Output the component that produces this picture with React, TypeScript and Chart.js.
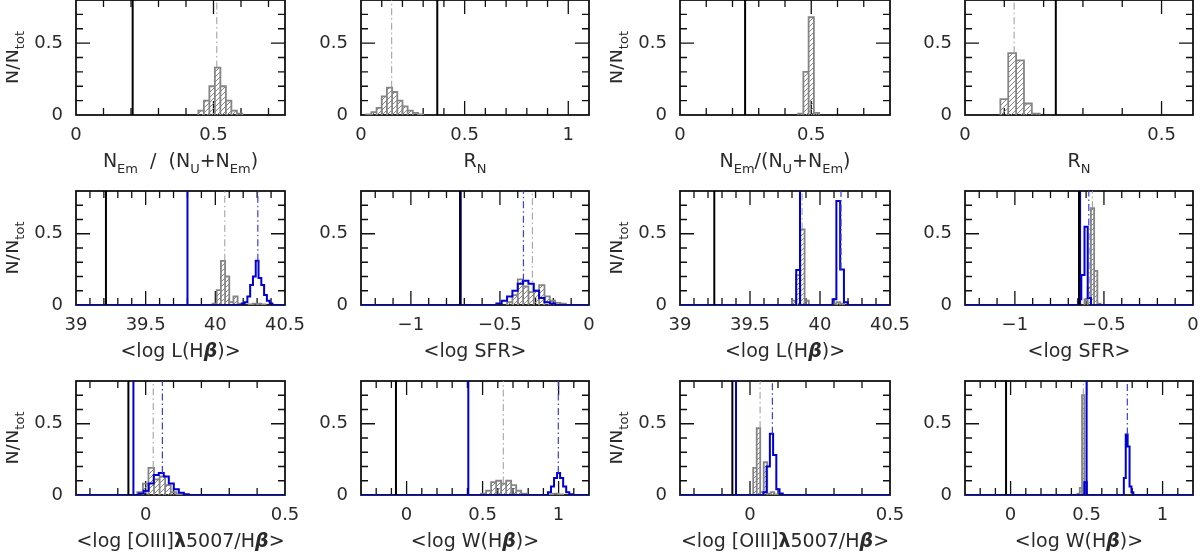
import { useEffect, useRef } from 'react';
import { Chart, registerables } from 'chart.js';

Chart.register(...registerables);

const FONT = '"DejaVu Sans", "Liberation Sans", sans-serif';

// panels run left to right, top to bottom
const xLimits = [
  [0, 0.76], [0, 1.1], [0, 0.8], [0, 0.58],
  [39, 40.5], [-1.28, 0], [39, 40.5], [-1.28, 0],
  [-0.25, 0.5], [-0.3, 1.2], [-0.25, 0.5], [-0.3, 1.2],
];
const xTickLabels = [
  [0, 0.5], [0, 0.5, 1], [0, 0.5], [0, 0.5],
  [39, 39.5, 40, 40.5], [-1, -0.5, 0], [39, 39.5, 40, 40.5], [-1, -0.5, 0],
  [0, 0.5], [0, 0.5, 1], [0, 0.5], [0, 0.5, 1],
];
const yLimits = [0, 0.8];
const yTickLabels = [0, 0.5];
const minorStep = 0.1;

const xTitles = [
  'N_{Em}  /  (N_{U}+N_{Em})', 'R_{N}', 'N_{Em}/(N_{U}+N_{Em})', 'R_{N}',
  '<log L(H*β*)>', '<log SFR>', '<log L(H*β*)>', '<log SFR>',
  '<log [OIII]#λ#5007/H*β*>', '<log W(H*β*)>', '<log [OIII]#λ#5007/H*β*>', '<log W(H*β*)>',
];
const yTitle = 'N/N_{tot}';

// grey (hatched) histograms: panel, first bin edge, bin width, N/Ntot per bin
const greyPanel = [0, 1, 2, 3, 4, 4, 5, 6, 6, 7, 8, 9, 9, 10, 11];
const greyStart = [0.445, 0.025, 0.45, 0.09, 39.98, 40.24, -0.46, 39.8, 40.09, -0.609, -0.03, 0.49, 0.93, 0.0115, 0.44];
const greyBin = [0.02, 0.025, 0.02, 0.02, 0.03, 0.03, 0.03, 0.03, 0.027, 0.018, 0.02, 0.033, 0.033, 0.0125, 0.015];
const greyCounts = [
  [0.03, 0.1, 0.2, 0.33, 0.2, 0.1, 0.03, 0.01],
  [0.005, 0.02, 0.05, 0.13, 0.19, 0.16, 0.1, 0.06, 0.03, 0.015, 0.005],
  [0.01, 0.3, 0.68, 0.015],
  [0.11, 0.43, 0.38, 0.08, 0.01],
  [0.01, 0.105, 0.31, 0.2, 0.02, 0.06, 0.01],
  [0.005, 0.01, 0.01, 0.005],
  [0.02, 0.07, 0.18, 0.13, 0.09, 0.1, 0.14, 0.06, 0.03, 0.015, 0.01],
  [0.03, 0.21, 0.53, 0.03],
  [0.01, 0.02, 0.01],
  [0.04, 0.12, 0.68, 0.24, 0.01],
  [0.02, 0.08, 0.19, 0.11, 0.13, 0.07, 0.02, 0.005],
  [0.01, 0.03, 0.09, 0.1, 0.08, 0.1, 0.07, 0.03, 0.01],
  [0.005, 0.01, 0.005],
  [0.19, 0.47, 0.02, 0.23, 0.01, 0.02, 0.005],
  [0.01, 0.05, 0.7, 0.09],
];

// blue (open) histograms
const bluePanel = [4, 5, 6, 6, 7, 8, 9, 10, 11, 11];
const blueStart = [40.19, -0.52, 39.83, 40.09, -0.645, -0.025, 0.93, 0.048, 0.485, 0.745];
const blueBin = [0.02, 0.03, 0.027, 0.027, 0.018, 0.018, 0.02, 0.0115, 0.015, 0.0125];
const blueCounts = [
  [0.01, 0.02, 0.06, 0.14, 0.2, 0.31, 0.19, 0.14, 0.07, 0.03, 0.01],
  [0.01, 0.03, 0.06, 0.1, 0.15, 0.17, 0.15, 0.1, 0.05, 0.02, 0.01],
  [0.245],
  [0.04, 0.73, 0.25, 0.02],
  [0.04, 0.21, 0.55, 0.05],
  [0.01, 0.03, 0.08, 0.14, 0.155, 0.13, 0.08, 0.04, 0.015, 0.005],
  [0.02, 0.06, 0.12, 0.155, 0.12, 0.06, 0.02, 0.005],
  [0.02, 0.2, 0.43, 0.28, 0.04, 0.01],
  [0.09],
  [0.12, 0.425, 0.34, 0.06, 0.02],
];

// vertical markers per panel
const blackLine = [0.206, 0.368, 0.248, 0.231, 39.215, -0.724, 39.245, -0.64, -0.062, -0.07, -0.063, -0.03];
const blueLine = [null, null, null, null, 39.8, -0.72, 39.857, -0.634, -0.044, 0.406, -0.05, 0.5];
const greyMean = [0.512, 0.148, null, 0.125, 40.068, -0.318, 39.872, -0.565, 0.027, 0.636, 0.036, 0.478];
const blueMean = [null, null, null, null, 40.305, -0.368, 40.15, -0.585, 0.06, 0.998, 0.08, 0.768];

const ROWS = [[0, 115], [190.5, 305], [381, 495]];
const COLS = [[76, 285], [361, 589], [680, 890], [965, 1193]];
const AXIS_W = 70;
const AXIS_H = 70;
const PAD_T = 34;
const PAD_R = 45;

const GREY = '#858585';
const BLUE = '#0000d6';
const TEXT = '#2a2a2a';

const fmt = (v: number) => (v < 0 ? '\u2212' + String(Math.abs(v)) : String(v));

function minorValues(lo: number, hi: number) {
  const out: number[] = [];
  for (let k = Math.ceil(lo / minorStep - 1e-9); k * minorStep <= hi + 1e-9; k++) out.push(k * minorStep);
  return out;
}
const isMajor = (v: number, list: number[]) => list.some((m) => Math.abs(m - v) < 1e-6);

function greySegments(p: number) {
  const sets: { x: number; y: number }[][] = [];
  greyPanel.forEach((pp, s) => {
    if (pp !== p) return;
    const pts: { x: number; y: number }[] = [];
    greyCounts[s].forEach((v, i) => {
      const a = greyStart[s] + i * greyBin[s];
      const b = a + greyBin[s];
      pts.push({ x: a, y: 0 }, { x: a, y: v }, { x: b, y: v }, { x: b, y: 0 });
    });
    sets.push(pts);
  });
  return sets;
}

function bluePoints(p: number) {
  const [lo, hi] = xLimits[p];
  const pts = [{ x: lo, y: 0 }];
  bluePanel.forEach((pp, s) => {
    if (pp !== p) return;
    pts.push({ x: blueStart[s], y: 0 });
    blueCounts[s].forEach((v, i) => {
      const a = blueStart[s] + i * blueBin[s];
      pts.push({ x: a, y: v }, { x: a + blueBin[s], y: v });
    });
    pts.push({ x: blueStart[s] + blueCounts[s].length * blueBin[s], y: 0 });
  });
  pts.push({ x: hi, y: 0 });
  return pts;
}

function heightAt(p: number, x: number, panels: number[], starts: number[], bins: number[], counts: number[][]) {
  let h = 0;
  panels.forEach((pp, s) => {
    if (pp !== p) return;
    const i = Math.floor((x - starts[s]) / bins[s]);
    if (i >= 0 && i < counts[s].length) h = Math.max(h, counts[s][i]);
  });
  return h;
}

// _{..} subscript, *..* bold italic greek, #..# bold greek
type Part = { t: string; k: 'n' | 's' | 'b' | 'g' };
function parseRich(s: string): Part[] {
  const out: Part[] = [];
  let buf = '';
  let i = 0;
  const flush = () => {
    if (buf) out.push({ t: buf, k: 'n' });
    buf = '';
  };
  while (i < s.length) {
    if (s[i] === '_' && s[i + 1] === '{') {
      flush();
      const j = s.indexOf('}', i);
      out.push({ t: s.slice(i + 2, j), k: 's' });
      i = j + 1;
    } else if (s[i] === '*' || s[i] === '#') {
      flush();
      const j = s.indexOf(s[i], i + 1);
      out.push({ t: s.slice(i + 1, j), k: s[i] === '*' ? 'b' : 'g' });
      i = j + 1;
    } else {
      buf += s[i];
      i++;
    }
  }
  flush();
  return out;
}

function drawRich(ctx: CanvasRenderingContext2D, text: string, x: number, y: number, size: number, angle: number) {
  const parts = parseRich(text);
  const fontOf = (k: string) =>
    k === 's'
      ? `${Math.round(size * 0.68)}px ${FONT}`
      : k === 'b'
        ? `italic bold ${size}px ${FONT}`
        : k === 'g'
          ? `bold ${size}px ${FONT}`
          : `${size}px ${FONT}`;
  ctx.save();
  ctx.translate(x, y);
  ctx.rotate(angle);
  ctx.fillStyle = TEXT;
  ctx.textAlign = 'left';
  ctx.textBaseline = 'alphabetic';
  const widths = parts.map((pt) => {
    ctx.font = fontOf(pt.k);
    return ctx.measureText(pt.t).width;
  });
  let cx = -widths.reduce((a, b) => a + b, 0) / 2;
  parts.forEach((pt, i) => {
    ctx.font = fontOf(pt.k);
    ctx.fillText(pt.t, cx, pt.k === 's' ? size * 0.32 : 0);
    cx += widths[i];
  });
  ctx.restore();
}

function hatchPattern(ctx: CanvasRenderingContext2D) {
  const tile = document.createElement('canvas');
  tile.width = 5;
  tile.height = 5;
  const g = tile.getContext('2d')!;
  g.strokeStyle = GREY;
  g.lineWidth = 1;
  g.beginPath();
  g.moveTo(0, 5);
  g.lineTo(5, 0);
  g.moveTo(-1, 1);
  g.lineTo(1, -1);
  g.moveTo(4, 6);
  g.lineTo(6, 4);
  g.stroke();
  return ctx.createPattern(tile, 'repeat')!;
}

function Panel({ p }: { p: number }) {
  const ref = useRef<HTMLCanvasElement>(null);
  const [top, bottom] = ROWS[Math.floor(p / 4)];
  const [left, right] = COLS[p % 4];
  const width = right - left + AXIS_W + PAD_R;
  const height = bottom - top + PAD_T + AXIS_H;

  useEffect(() => {
    if (!ref.current) return;
    const ctx = ref.current.getContext('2d')!;
    const hatch = hatchPattern(ctx);
    const [xMin, xMax] = xLimits[p];

    const datasets: any[] = [];
    greySegments(p).forEach((pts) =>
      datasets.push({
        data: pts,
        borderColor: GREY,
        borderWidth: 1.8,
        backgroundColor: hatch,
        fill: 'origin',
        order: 3,
      })
    );
    if (bluePanel.includes(p)) {
      datasets.push({ data: bluePoints(p), borderColor: BLUE, borderWidth: 2, fill: false, order: 2 });
    }
    const vline = (x: number | null, y0: number, color: string, w: number, dash: number[], order: number) => {
      if (x === null) return;
      datasets.push({
        data: [{ x, y: y0 }, { x, y: yLimits[1] }],
        borderColor: color,
        borderWidth: w,
        borderDash: dash,
        fill: false,
        order,
      });
    };
    vline(greyMean[p], heightAt(p, greyMean[p] ?? 0, greyPanel, greyStart, greyBin, greyCounts), '#9a9a9a', 1, [7, 3, 1.5, 3], 1);
    vline(blueMean[p], heightAt(p, blueMean[p] ?? 0, bluePanel, blueStart, blueBin, blueCounts), '#3c3ce0', 1.2, [7, 3, 1.5, 3], 1);
    vline(blueLine[p], 0, BLUE, 2, [], 1);
    vline(blackLine[p], 0, '#000', 2, [], 0);

    const framePlugin = {
      id: 'panelFrame',
      beforeDatasetsDraw(chart: any) {
        const { ctx: c, chartArea: a, scales } = chart;
        c.save();
        c.strokeStyle = '#111';
        c.lineWidth = 1.3;
        c.beginPath();
        minorValues(xMin, xMax).forEach((v) => {
          const px = scales.x.getPixelForValue(v);
          if (px < a.left + 1 || px > a.right - 1) return;
          const len = isMajor(v, xTickLabels[p]) ? 14 : 7;
          c.moveTo(px, a.bottom);
          c.lineTo(px, a.bottom - len);
          c.moveTo(px, a.top);
          c.lineTo(px, a.top + len);
        });
        minorValues(yLimits[0], yLimits[1]).forEach((v) => {
          const py = scales.y.getPixelForValue(v);
          if (py < a.top + 1 || py > a.bottom - 1) return;
          const len = isMajor(v, yTickLabels) ? 14 : 7;
          c.moveTo(a.left, py);
          c.lineTo(a.left + len, py);
          c.moveTo(a.right, py);
          c.lineTo(a.right - len, py);
        });
        c.stroke();
        c.lineWidth = 1.8;
        c.strokeRect(a.left, a.top, a.right - a.left, a.bottom - a.top);
        c.restore();
      },
      afterDraw(chart: any) {
        const { ctx: c, chartArea: a } = chart;
        drawRich(c, xTitles[p], (a.left + a.right) / 2, a.bottom + 52, 19, 0);
        if (p % 2 === 0) drawRich(c, yTitle, a.left - 58, (a.top + a.bottom) / 2, 19, -Math.PI / 2);
      },
    };

    const chart = new Chart(ref.current, {
      type: 'line',
      data: { datasets },
      options: {
        animation: false,
        responsive: false,
        events: [],
        layout: { padding: { top: PAD_T, right: PAD_R, left: 0, bottom: 0 } },
        elements: { point: { radius: 0 }, line: { tension: 0 } },
        plugins: { legend: { display: false }, tooltip: { enabled: false } },
        scales: {
          x: {
            type: 'linear',
            min: xMin,
            max: xMax,
            grid: { display: false, drawTicks: false },
            border: { display: false },
            afterBuildTicks: (s: any) => {
              s.ticks = xTickLabels[p].map((value) => ({ value }));
            },
            afterFit: (s: any) => {
              s.height = AXIS_H;
            },
            ticks: {
              autoSkip: false,
              maxRotation: 0,
              padding: 10,
              color: TEXT,
              font: { family: FONT, size: 18 },
              callback: (v: any) => fmt(Number(v)),
            },
          },
          y: {
            type: 'linear',
            min: yLimits[0],
            max: yLimits[1],
            grid: { display: false, drawTicks: false },
            border: { display: false },
            afterBuildTicks: (s: any) => {
              s.ticks = yTickLabels.map((value) => ({ value }));
            },
            afterFit: (s: any) => {
              s.width = AXIS_W;
            },
            ticks: {
              autoSkip: false,
              padding: 13,
              color: TEXT,
              font: { family: FONT, size: 18 },
              callback: (v: any) => fmt(Number(v)),
            },
          },
        },
      },
      plugins: [framePlugin],
    });
    return () => chart.destroy();
  }, [p]);

  return (
    <canvas
      ref={ref}
      width={width}
      height={height}
      style={{ position: 'absolute', left: left - AXIS_W, top: top - PAD_T, width, height }}
    />
  );
}

export default function App() {
  return (
    <div style={{ position: 'absolute', left: 0, top: 0, width: 1200, height: 553, overflow: 'hidden', background: '#fff' }}>
      {xLimits.map((_, p) => (
        <Panel key={p} p={p} />
      ))}
    </div>
  );
}
